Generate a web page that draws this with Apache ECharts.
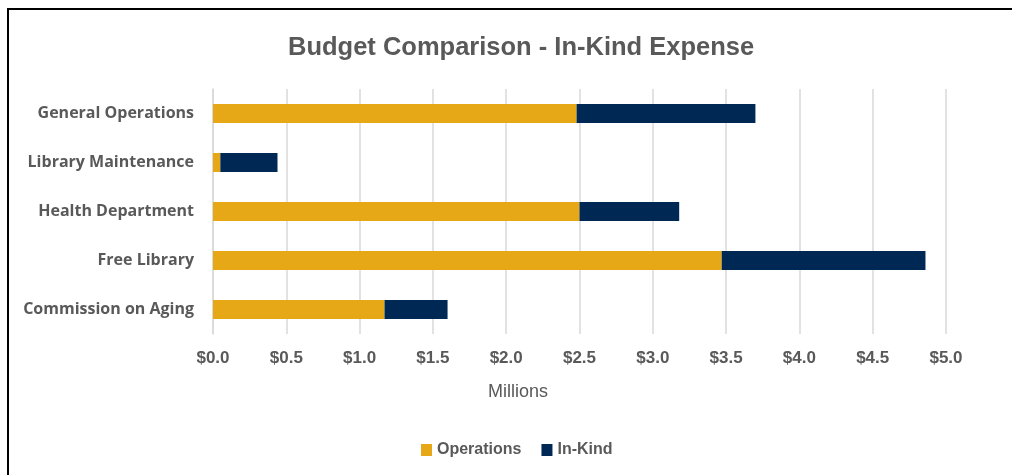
<!DOCTYPE html>
<html>
<head>
<meta charset="utf-8">
<script src="https://cdn.jsdelivr.net/npm/echarts@6/dist/echarts.min.js"></script>
<style>
  html, body { margin: 0; padding: 0; background: #fff; }
  #chart { width: 1012px; height: 475px; }
</style>
</head>
<body>
<div id="chart"></div>
<script>
// Departments, listed top to bottom
const categories = ['General Operations', 'Library Maintenance', 'Health Department', 'Free Library', 'Commission on Aging'];
// Expense in millions of dollars
const operations = [2.48, 0.05, 2.50, 3.47, 1.17];
const inKind = [1.22, 0.39, 0.68, 1.39, 0.43];
const xTicks = [0, 0.5, 1, 1.5, 2, 2.5, 3, 3.5, 4, 4.5, 5];

const sans = '"Liberation Sans", Arial, sans-serif';
const grey = '#595959';

const chart = echarts.init(document.getElementById('chart'), null, { renderer: 'canvas' });
chart.setOption({
  backgroundColor: '#ffffff',
  animation: false,
  graphic: [
    {
      type: 'rect',
      shape: { x: 8, y: 9, width: 1100, height: 600 },
      style: { fill: 'none', stroke: '#000', lineWidth: 2 },
      silent: true
    },
    {
      // axis unit caption
      type: 'text',
      x: 518,
      y: 392,
      style: {
        text: 'Millions',
        align: 'center',
        verticalAlign: 'middle',
        fontFamily: sans,
        fontSize: 18,
        fill: grey
      },
      silent: true
    }
  ],
  title: {
    text: 'Budget Comparison - In-Kind Expense',
    left: 283,
    top: 30,
    textStyle: { fontFamily: sans, fontSize: 25.5, fontWeight: 'bold', color: grey }
  },
  legend: {
    bottom: 12,
    left: 416,
    itemWidth: 11,
    itemHeight: 12,
    itemGap: 20,
    icon: 'rect',
    textStyle: { fontFamily: sans, fontSize: 16, fontWeight: 'bold', color: grey },
    data: ['Operations', 'In-Kind']
  },
  grid: { left: 213, right: 66, top: 89, bottom: 141, containLabel: false },
  xAxis: {
    type: 'value',
    min: 0,
    max: 5,
    interval: 0.5,
    axisLine: { show: false },
    axisTick: { show: false },
    splitLine: { show: true, lineStyle: { color: '#d9d9d9', width: 1.5 } },
    axisLabel: {
      margin: 16,
      fontFamily: sans,
      fontSize: 17,
      fontWeight: 'bold',
      color: grey,
      customValues: xTicks,
      formatter: v => '$' + v.toFixed(1)
    }
  },
  yAxis: {
    type: 'category',
    inverse: true,
    data: categories,
    axisLine: { show: true, lineStyle: { color: '#d9d9d9', width: 1.5 } },
    axisTick: { show: false },
    axisLabel: {
      margin: 19,
      fontFamily: '"Open Sans", sans-serif',
      fontSize: 16,
      fontWeight: 'bold',
      color: grey
    }
  },
  series: [
    {
      name: 'Operations',
      type: 'bar',
      stack: 'total',
      data: operations,
      barWidth: 19,
      itemStyle: { color: '#E6A817' }
    },
    {
      name: 'In-Kind',
      type: 'bar',
      stack: 'total',
      data: inKind,
      barWidth: 19,
      itemStyle: { color: '#002855' }
    }
  ]
});
</script>
</body>
</html>
